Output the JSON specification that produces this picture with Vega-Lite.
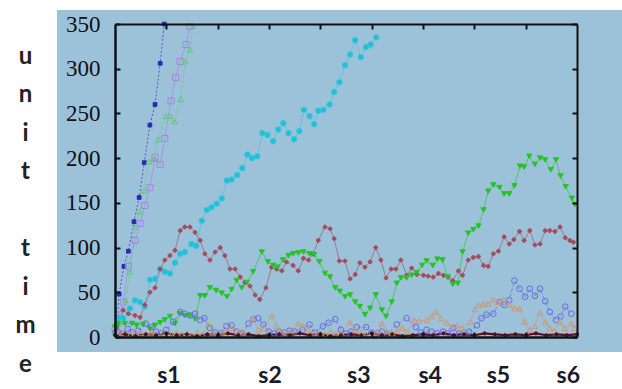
{
"$schema": "https://vega.github.io/schema/vega-lite/v6.json",
"width": 462, "height": 313,
"autosize": "none",
"padding": {"left": 115, "top": 24, "right": 45, "bottom": 52},
"background": "white",
"config": {"view": {"stroke": null}, "axis": {"grid": false, "zindex": 1, "labelFont": "Liberation Serif", "labelFontSize": 23}, "axisY": {"labelFont": "Liberation Serif", "labelFontSize": 23}, "style": {"guide-label": {"font": "Liberation Serif", "fontSize": 23}}},
"resolve": {"axis": {"x": "independent", "y": "independent"}},
"datasets": {
"labels": [{"lab":"s1","pos":10.5},{"lab":"s2","pos":30.2},{"lab":"s3","pos":47.5},{"lab":"s4","pos":61.4},{"lab":"s5","pos":74.7},{"lab":"s6","pos":88.3}],
"series": [
{"s":"d","x":0,"y":5},{"s":"d","x":0.4,"y":14},{"s":"d","x":0.8,"y":48},{"s":"d","x":1.75,"y":79},{"s":"d","x":2.6,"y":96},{"s":"d","x":3.7,"y":129},{"s":"d","x":4.7,"y":156},{"s":"d","x":5.7,"y":195},{"s":"d","x":6.8,"y":237},{"s":"d","x":7.8,"y":260},{"s":"d","x":8.8,"y":306},{"s":"d","x":9.6,"y":350},
{"s":"p","x":0,"y":8},{"s":"p","x":0.8,"y":25},{"s":"p","x":1.6,"y":39},{"s":"p","x":2.6,"y":79},{"s":"p","x":3.9,"y":108},{"s":"p","x":4.9,"y":127},{"s":"p","x":5.8,"y":147},{"s":"p","x":6.8,"y":167},{"s":"p","x":7.8,"y":201},{"s":"p","x":8.8,"y":193},{"s":"p","x":9.7,"y":222},{"s":"p","x":10.9,"y":264},{"s":"p","x":11.8,"y":290},{"s":"p","x":12.7,"y":308},{"s":"p","x":13.8,"y":327},{"s":"p","x":14.6,"y":347},
{"s":"g1","x":0,"y":6},{"s":"g1","x":0.8,"y":15},{"s":"g1","x":2.1,"y":41},{"s":"g1","x":2.9,"y":73},{"s":"g1","x":3.9,"y":123},{"s":"g1","x":4.8,"y":140},{"s":"g1","x":5.6,"y":164},{"s":"g1","x":6.6,"y":196},{"s":"g1","x":7.6,"y":199},{"s":"g1","x":8.4,"y":221},{"s":"g1","x":9.9,"y":247},{"s":"g1","x":10.8,"y":247},{"s":"g1","x":11.6,"y":241},{"s":"g1","x":12.8,"y":266},{"s":"g1","x":13.7,"y":308},{"s":"g1","x":14.6,"y":321},{"s":"g1","x":15.2,"y":348},
{"s":"c","x":0.6,"y":22},{"s":"c","x":1.6,"y":21},{"s":"c","x":2.9,"y":32},{"s":"c","x":3.9,"y":41},{"s":"c","x":4.9,"y":39},{"s":"c","x":5.8,"y":34},{"s":"c","x":6.8,"y":64},{"s":"c","x":7.8,"y":65},{"s":"c","x":8.8,"y":76},{"s":"c","x":9.7,"y":73},{"s":"c","x":10.7,"y":71},{"s":"c","x":11.7,"y":83},{"s":"c","x":12.7,"y":93},{"s":"c","x":13.6,"y":95},{"s":"c","x":14.9,"y":104},{"s":"c","x":15.8,"y":102},{"s":"c","x":16.9,"y":130},{"s":"c","x":17.9,"y":142},{"s":"c","x":18.8,"y":145},{"s":"c","x":19.8,"y":149},{"s":"c","x":20.8,"y":155},{"s":"c","x":21.8,"y":175},{"s":"c","x":22.7,"y":176},{"s":"c","x":23.8,"y":181},{"s":"c","x":24.8,"y":189},{"s":"c","x":25.8,"y":204},{"s":"c","x":26.7,"y":200},{"s":"c","x":27.7,"y":202},{"s":"c","x":28.7,"y":228},{"s":"c","x":29.7,"y":226},{"s":"c","x":30.8,"y":219},{"s":"c","x":31.8,"y":232},{"s":"c","x":32.8,"y":239},{"s":"c","x":33.8,"y":228},{"s":"c","x":34.9,"y":221},{"s":"c","x":35.9,"y":230},{"s":"c","x":36.8,"y":254},{"s":"c","x":37.9,"y":247},{"s":"c","x":38.8,"y":238},{"s":"c","x":39.6,"y":253},{"s":"c","x":40.6,"y":254},{"s":"c","x":41.8,"y":260},{"s":"c","x":42.7,"y":274},{"s":"c","x":43.7,"y":285},{"s":"c","x":44.8,"y":304},{"s":"c","x":45.8,"y":316},{"s":"c","x":46.8,"y":332},{"s":"c","x":47.9,"y":313},{"s":"c","x":48.9,"y":324},{"s":"c","x":49.8,"y":327},{"s":"c","x":50.9,"y":335},
{"s":"m","x":0.3,"y":10},{"s":"m","x":1.6,"y":30},{"s":"m","x":2.6,"y":26},{"s":"m","x":3.9,"y":24},{"s":"m","x":4.9,"y":22},{"s":"m","x":5.8,"y":36},{"s":"m","x":6.8,"y":50},{"s":"m","x":7.8,"y":55},{"s":"m","x":8.8,"y":76},{"s":"m","x":9.7,"y":86},{"s":"m","x":10.7,"y":91},{"s":"m","x":11.7,"y":97},{"s":"m","x":12.7,"y":119},{"s":"m","x":13.6,"y":123},{"s":"m","x":14.6,"y":123},{"s":"m","x":15.6,"y":117},{"s":"m","x":16.6,"y":108},{"s":"m","x":17.5,"y":93},{"s":"m","x":18.5,"y":86},{"s":"m","x":19.5,"y":95},{"s":"m","x":20.5,"y":100},{"s":"m","x":21.4,"y":91},{"s":"m","x":22.4,"y":76},{"s":"m","x":23.4,"y":76},{"s":"m","x":24.4,"y":67},{"s":"m","x":25.3,"y":61},{"s":"m","x":26.3,"y":57},{"s":"m","x":27.3,"y":47},{"s":"m","x":28.2,"y":42},{"s":"m","x":29.4,"y":55},{"s":"m","x":30.5,"y":78},{"s":"m","x":31.5,"y":76},{"s":"m","x":32.5,"y":74},{"s":"m","x":33.4,"y":84},{"s":"m","x":34.7,"y":80},{"s":"m","x":35.7,"y":74},{"s":"m","x":36.7,"y":88},{"s":"m","x":37.7,"y":86},{"s":"m","x":38.6,"y":93},{"s":"m","x":39.6,"y":108},{"s":"m","x":40.9,"y":123},{"s":"m","x":41.9,"y":121},{"s":"m","x":42.7,"y":110},{"s":"m","x":43.7,"y":85},{"s":"m","x":44.8,"y":85},{"s":"m","x":45.8,"y":65},{"s":"m","x":46.8,"y":70},{"s":"m","x":47.7,"y":83},{"s":"m","x":48.7,"y":78},{"s":"m","x":49.7,"y":84},{"s":"m","x":50.8,"y":100},{"s":"m","x":51.8,"y":86},{"s":"m","x":52.8,"y":66},{"s":"m","x":53.8,"y":76},{"s":"m","x":54.7,"y":76},{"s":"m","x":55.7,"y":86},{"s":"m","x":56.8,"y":69},{"s":"m","x":57.8,"y":77},{"s":"m","x":58.8,"y":70},{"s":"m","x":60.1,"y":69},{"s":"m","x":61.0,"y":68},{"s":"m","x":62.0,"y":67},{"s":"m","x":63.0,"y":71},{"s":"m","x":64.0,"y":69},{"s":"m","x":64.9,"y":67},{"s":"m","x":65.8,"y":63},{"s":"m","x":66.9,"y":74},{"s":"m","x":67.7,"y":69},{"s":"m","x":68.8,"y":86},{"s":"m","x":69.8,"y":89},{"s":"m","x":70.8,"y":90},{"s":"m","x":71.8,"y":80},{"s":"m","x":72.7,"y":79},{"s":"m","x":73.7,"y":93},{"s":"m","x":74.7,"y":96},{"s":"m","x":75.8,"y":112},{"s":"m","x":76.8,"y":104},{"s":"m","x":77.7,"y":109},{"s":"m","x":78.8,"y":118},{"s":"m","x":79.7,"y":108},{"s":"m","x":80.8,"y":119},{"s":"m","x":81.8,"y":103},{"s":"m","x":82.8,"y":104},{"s":"m","x":83.8,"y":119},{"s":"m","x":84.7,"y":119},{"s":"m","x":85.7,"y":118},{"s":"m","x":86.7,"y":123},{"s":"m","x":87.7,"y":111},{"s":"m","x":88.6,"y":108},{"s":"m","x":89.3,"y":106},
{"s":"g2","x":0,"y":11},{"s":"g2","x":0.6,"y":15},{"s":"g2","x":1.9,"y":15},{"s":"g2","x":3.3,"y":15},{"s":"g2","x":4.2,"y":13},{"s":"g2","x":5.5,"y":14},{"s":"g2","x":6.8,"y":9},{"s":"g2","x":7.8,"y":13},{"s":"g2","x":8.8,"y":16},{"s":"g2","x":9.7,"y":19},{"s":"g2","x":10.7,"y":23},{"s":"g2","x":11.7,"y":15},{"s":"g2","x":12.7,"y":26},{"s":"g2","x":13.6,"y":24},{"s":"g2","x":14.6,"y":24},{"s":"g2","x":15.6,"y":20},{"s":"g2","x":16.6,"y":46},{"s":"g2","x":17.5,"y":46},{"s":"g2","x":18.5,"y":55},{"s":"g2","x":19.7,"y":52},{"s":"g2","x":20.8,"y":49},{"s":"g2","x":21.8,"y":45},{"s":"g2","x":22.7,"y":53},{"s":"g2","x":23.7,"y":63},{"s":"g2","x":24.7,"y":55},{"s":"g2","x":25.7,"y":61},{"s":"g2","x":26.9,"y":73},{"s":"g2","x":28.6,"y":95},{"s":"g2","x":29.8,"y":84},{"s":"g2","x":30.8,"y":80},{"s":"g2","x":31.7,"y":78},{"s":"g2","x":32.7,"y":86},{"s":"g2","x":33.8,"y":91},{"s":"g2","x":34.7,"y":93},{"s":"g2","x":35.7,"y":94},{"s":"g2","x":36.7,"y":95},{"s":"g2","x":37.9,"y":93},{"s":"g2","x":38.8,"y":92},{"s":"g2","x":39.8,"y":84},{"s":"g2","x":40.9,"y":71},{"s":"g2","x":41.9,"y":67},{"s":"g2","x":42.9,"y":55},{"s":"g2","x":43.8,"y":51},{"s":"g2","x":44.8,"y":45},{"s":"g2","x":45.8,"y":47},{"s":"g2","x":46.8,"y":39},{"s":"g2","x":47.7,"y":34},{"s":"g2","x":48.7,"y":25},{"s":"g2","x":49.7,"y":32},{"s":"g2","x":50.8,"y":47},{"s":"g2","x":52.0,"y":30},{"s":"g2","x":52.8,"y":23},{"s":"g2","x":53.9,"y":39},{"s":"g2","x":54.9,"y":60},{"s":"g2","x":55.7,"y":66},{"s":"g2","x":56.8,"y":66},{"s":"g2","x":57.8,"y":69},{"s":"g2","x":58.8,"y":72},{"s":"g2","x":59.8,"y":80},{"s":"g2","x":60.7,"y":85},{"s":"g2","x":61.9,"y":80},{"s":"g2","x":62.8,"y":87},{"s":"g2","x":63.8,"y":86},{"s":"g2","x":64.8,"y":67},{"s":"g2","x":65.8,"y":59},{"s":"g2","x":66.8,"y":60},{"s":"g2","x":67.7,"y":95},{"s":"g2","x":68.8,"y":116},{"s":"g2","x":69.8,"y":120},{"s":"g2","x":70.8,"y":124},{"s":"g2","x":71.8,"y":142},{"s":"g2","x":72.7,"y":163},{"s":"g2","x":73.7,"y":170},{"s":"g2","x":74.9,"y":167},{"s":"g2","x":75.8,"y":160},{"s":"g2","x":76.8,"y":160},{"s":"g2","x":77.8,"y":169},{"s":"g2","x":78.9,"y":191},{"s":"g2","x":79.7,"y":190},{"s":"g2","x":80.7,"y":202},{"s":"g2","x":81.8,"y":193},{"s":"g2","x":82.8,"y":200},{"s":"g2","x":83.8,"y":198},{"s":"g2","x":84.9,"y":187},{"s":"g2","x":85.9,"y":198},{"s":"g2","x":86.8,"y":180},{"s":"g2","x":87.8,"y":168},{"s":"g2","x":89.0,"y":155},{"s":"g2","x":89.6,"y":148},
{"s":"b","x":0.5,"y":6},{"s":"b","x":1.5,"y":4},{"s":"b","x":2.5,"y":9},{"s":"b","x":3.5,"y":5},{"s":"b","x":4.5,"y":7},{"s":"b","x":6.0,"y":15},{"s":"b","x":7.1,"y":11},{"s":"b","x":8,"y":6},{"s":"b","x":9,"y":4},{"s":"b","x":10,"y":8},{"s":"b","x":11.3,"y":17},{"s":"b","x":12.7,"y":28},{"s":"b","x":13.6,"y":26},{"s":"b","x":14.6,"y":24},{"s":"b","x":15.6,"y":26},{"s":"b","x":16.6,"y":19},{"s":"b","x":17.4,"y":21},{"s":"b","x":18.5,"y":10},{"s":"b","x":19.5,"y":5},{"s":"b","x":20.5,"y":4},{"s":"b","x":21.7,"y":12},{"s":"b","x":22.7,"y":13},{"s":"b","x":23.7,"y":6},{"s":"b","x":24.7,"y":4},{"s":"b","x":26.0,"y":15},{"s":"b","x":27.0,"y":20},{"s":"b","x":27.9,"y":21},{"s":"b","x":28.9,"y":14},{"s":"b","x":30,"y":6},{"s":"b","x":31,"y":4},{"s":"b","x":32,"y":6},{"s":"b","x":33,"y":5},{"s":"b","x":34,"y":7},{"s":"b","x":35,"y":6},{"s":"b","x":36.5,"y":8},{"s":"b","x":37.9,"y":14},{"s":"b","x":38.9,"y":5},{"s":"b","x":40.5,"y":12},{"s":"b","x":41.6,"y":16},{"s":"b","x":42.9,"y":20},{"s":"b","x":44,"y":8},{"s":"b","x":45,"y":4},{"s":"b","x":46,"y":6},{"s":"b","x":47.1,"y":11},{"s":"b","x":48.9,"y":11},{"s":"b","x":50,"y":5},{"s":"b","x":51,"y":4},{"s":"b","x":52,"y":6},{"s":"b","x":53,"y":3},{"s":"b","x":54.9,"y":14},{"s":"b","x":56.8,"y":21},{"s":"b","x":58.6,"y":11},{"s":"b","x":59.6,"y":5},{"s":"b","x":60.7,"y":8},{"s":"b","x":61.7,"y":6},{"s":"b","x":62.8,"y":4},{"s":"b","x":63.9,"y":6},{"s":"b","x":64.9,"y":4},{"s":"b","x":65.9,"y":10},{"s":"b","x":67,"y":4},{"s":"b","x":68,"y":5},{"s":"b","x":69,"y":6},{"s":"b","x":70.5,"y":13},{"s":"b","x":71.4,"y":21},{"s":"b","x":72.4,"y":25},{"s":"b","x":73.7,"y":26},{"s":"b","x":74.9,"y":39},{"s":"b","x":75.8,"y":36},{"s":"b","x":76.8,"y":41},{"s":"b","x":77.8,"y":63},{"s":"b","x":78.8,"y":54},{"s":"b","x":79.9,"y":45},{"s":"b","x":80.8,"y":54},{"s":"b","x":81.8,"y":46},{"s":"b","x":82.8,"y":54},{"s":"b","x":83.8,"y":40},{"s":"b","x":84.7,"y":28},{"s":"b","x":85.9,"y":19},{"s":"b","x":86.8,"y":23},{"s":"b","x":87.7,"y":34},{"s":"b","x":88.9,"y":26},
{"s":"t","x":0.5,"y":3},{"s":"t","x":1.5,"y":5},{"s":"t","x":3,"y":3},{"s":"t","x":4,"y":6},{"s":"t","x":5,"y":4},{"s":"t","x":6,"y":3},{"s":"t","x":7,"y":5},{"s":"t","x":8,"y":3},{"s":"t","x":9,"y":2},{"s":"t","x":10,"y":4},{"s":"t","x":11,"y":3},{"s":"t","x":12,"y":5},{"s":"t","x":13,"y":3},{"s":"t","x":14,"y":4},{"s":"t","x":15,"y":2},{"s":"t","x":16,"y":5},{"s":"t","x":17,"y":3},{"s":"t","x":18.2,"y":14},{"s":"t","x":19,"y":5},{"s":"t","x":20,"y":3},{"s":"t","x":21,"y":6},{"s":"t","x":22.5,"y":10},{"s":"t","x":24,"y":6},{"s":"t","x":25,"y":5},{"s":"t","x":26.9,"y":21},{"s":"t","x":28,"y":8},{"s":"t","x":29,"y":10},{"s":"t","x":30.6,"y":24},{"s":"t","x":31.5,"y":12},{"s":"t","x":32.5,"y":6},{"s":"t","x":33.5,"y":4},{"s":"t","x":34.7,"y":8},{"s":"t","x":35.7,"y":15},{"s":"t","x":36.7,"y":13},{"s":"t","x":37.7,"y":8},{"s":"t","x":38.7,"y":4},{"s":"t","x":40,"y":5},{"s":"t","x":41,"y":3},{"s":"t","x":42,"y":6},{"s":"t","x":43,"y":4},{"s":"t","x":44,"y":5},{"s":"t","x":45.8,"y":16},{"s":"t","x":46.8,"y":8},{"s":"t","x":48,"y":5},{"s":"t","x":49,"y":3},{"s":"t","x":50,"y":4},{"s":"t","x":51,"y":6},{"s":"t","x":52,"y":15},{"s":"t","x":53,"y":6},{"s":"t","x":54,"y":4},{"s":"t","x":55,"y":8},{"s":"t","x":56,"y":10},{"s":"t","x":57,"y":6},{"s":"t","x":58.3,"y":19},{"s":"t","x":59.2,"y":18},{"s":"t","x":60.7,"y":19},{"s":"t","x":61.7,"y":23},{"s":"t","x":62.5,"y":28},{"s":"t","x":63.5,"y":21},{"s":"t","x":64.6,"y":16},{"s":"t","x":65.6,"y":11},{"s":"t","x":66.6,"y":13},{"s":"t","x":67.6,"y":10},{"s":"t","x":69.3,"y":17},{"s":"t","x":70.1,"y":31},{"s":"t","x":70.8,"y":36},{"s":"t","x":71.8,"y":37},{"s":"t","x":72.7,"y":37},{"s":"t","x":73.7,"y":42},{"s":"t","x":74.7,"y":39},{"s":"t","x":75.7,"y":42},{"s":"t","x":76.8,"y":36},{"s":"t","x":77.8,"y":32},{"s":"t","x":78.8,"y":32},{"s":"t","x":79.8,"y":17},{"s":"t","x":80.8,"y":8},{"s":"t","x":81.8,"y":12},{"s":"t","x":82.8,"y":27},{"s":"t","x":83.8,"y":17},{"s":"t","x":84.7,"y":10},{"s":"t","x":85.6,"y":7},{"s":"t","x":86.6,"y":17},{"s":"t","x":87.6,"y":10},{"s":"t","x":88.9,"y":15},{"s":"t","x":89.5,"y":10},
{"s":"r","x":0,"y":2},{"s":"r","x":2,"y":3},{"s":"r","x":4,"y":1},{"s":"r","x":6,"y":3},{"s":"r","x":8,"y":2},{"s":"r","x":10,"y":4},{"s":"r","x":12,"y":2},{"s":"r","x":14,"y":3},{"s":"r","x":16,"y":1},{"s":"r","x":18,"y":3},{"s":"r","x":20,"y":2},{"s":"r","x":22,"y":4},{"s":"r","x":24,"y":2},{"s":"r","x":26,"y":3},{"s":"r","x":28,"y":1},{"s":"r","x":30,"y":2},{"s":"r","x":32,"y":3},{"s":"r","x":34,"y":2},{"s":"r","x":36,"y":4},{"s":"r","x":38,"y":2},{"s":"r","x":40,"y":3},{"s":"r","x":42,"y":1},{"s":"r","x":44,"y":2},{"s":"r","x":46,"y":3},{"s":"r","x":48,"y":2},{"s":"r","x":50,"y":4},{"s":"r","x":52,"y":2},{"s":"r","x":54,"y":3},{"s":"r","x":56,"y":1},{"s":"r","x":58,"y":2},{"s":"r","x":60,"y":3},{"s":"r","x":62,"y":2},{"s":"r","x":64,"y":4},{"s":"r","x":66,"y":2},{"s":"r","x":68,"y":3},{"s":"r","x":70,"y":2},{"s":"r","x":72,"y":4},{"s":"r","x":74,"y":3},{"s":"r","x":76,"y":2},{"s":"r","x":78,"y":3},{"s":"r","x":80,"y":2},{"s":"r","x":82,"y":4},{"s":"r","x":84,"y":2},{"s":"r","x":86,"y":3},{"s":"r","x":88,"y":2},{"s":"r","x":90,"y":3}
]},
"layer": [
{
"data": {"values": [{}]},
"mark": {"type": "rect", "color": "#9cc2da"},
"encoding": {
"x": {"datum": -11.3, "type": "quantitative", "scale": {"domain": [0, 90], "nice": false, "zero": false}, "axis": null},
"x2": {"datum": 98.8},
"y": {"datum": 365.6, "type": "quantitative", "scale": {"domain": [0, 350], "nice": false, "zero": false}, "axis": null},
"y2": {"datum": -16.7}
}
},
{
"data": {"name": "series"},
"transform": [{"filter": "datum.s !== 'r'"}],
"mark": {"type": "line", "strokeWidth": 1, "opacity": 0.7},
"encoding": {
"x": {"field": "x", "type": "quantitative", "scale": {"domain": [0, 90], "nice": false, "zero": false},
"axis": {"orient": "top", "zindex": 1, "values": [10,20,30,40,50,60,70,80], "labels": false, "ticks": true, "tickSize": -5, "tickWidth": 2, "tickColor": "#111", "domain": true, "domainColor": "#111", "domainWidth": 2, "title": null, "grid": false}},
"y": {"field": "y", "type": "quantitative", "scale": {"domain": [0, 350], "nice": false, "zero": false},
"axis": {"orient": "left", "zindex": 1, "values": [0,50,100,150,200,250,300,350], "tickSize": -5, "tickWidth": 2, "tickColor": "#111", "labelPadding": 20, "labelFont": "Liberation Serif", "labelFontSize": 23, "labelFontWeight": "normal", "labelColor": "#111", "labelBaseline": "middle", "labelFlush": false, "labelOverlap": false, "domainWidth": 2.5, "domainColor": "#111", "grid": false,
"title": ["u","n","i","t","\u200b","t","i","m","e"], "titleAngle": 0, "titleX": -90, "titleY": 39, "titleAlign": "center", "titleBaseline": "alphabetic", "titleFont": "Lato", "titleFontWeight": "bold", "titleFontSize": 24, "titleLineHeight": 38.5, "titleColor": "#222"}},
"stroke": {"field": "s", "type": "nominal", "scale": {"domain": ["d","p","g1","c","m","g2","b","t","r"], "range": ["#2a2ab8","#a584e0","#5ccc70","#3cc4dc","#a44c5c","#28c428","#6a6ae0","#c89a78","#5a1020"]}, "legend": null},
"strokeDash": {"field": "s", "type": "nominal", "scale": {"domain": ["d","p","g1","c","m","g2","b","t","r"], "range": [[2,2],[1,0],[3,2],[1,0],[1,0],[1,0],[4,2],[1,0],[1,0]]}, "legend": null}
}
},
{
"data": {"name": "series"},
"transform": [{"filter": "datum.s === 'r'"}],
"mark": {"type": "line", "strokeWidth": 2.2, "color": "#5a1020"},
"encoding": {
"x": {"field": "x", "type": "quantitative", "scale": {"domain": [0, 90], "nice": false, "zero": false}, "axis": null},
"y": {"field": "y", "type": "quantitative", "scale": {"domain": [0, 350], "nice": false, "zero": false}, "axis": null}
}
},
{
"data": {"name": "series"},
"mark": {"type": "point", "strokeWidth": 1, "opacity": 1},
"encoding": {
"x": {"field": "x", "type": "quantitative", "scale": {"domain": [0, 90], "nice": false, "zero": false}, "axis": null},
"y": {"field": "y", "type": "quantitative", "scale": {"domain": [0, 350], "nice": false, "zero": false}, "axis": null},
"shape": {"field": "s", "type": "nominal", "scale": {"domain": ["d","p","g1","c","m","g2","b","t","r"], "range": ["square","square","triangle-up","circle","cross","triangle-down","circle","triangle-up","cross"]}, "legend": null},
"fill": {"field": "s", "type": "nominal", "scale": {"domain": ["d","p","g1","c","m","g2","b","t","r"], "range": ["#2a2ab8","transparent","transparent","#1fc0d8","#a44c5c","#22c422","transparent","transparent","#5a1020"]}, "legend": null},
"stroke": {"field": "s", "type": "nominal", "scale": {"domain": ["d","p","g1","c","m","g2","b","t","r"], "range": ["#2a2ab8","#a584e0","#5ccc70","#3cc4dc","#a44c5c","#28c428","#6a6ae0","#c89a78","#5a1020"]}, "legend": null},
"size": {"field": "s", "type": "nominal", "scale": {"type": "ordinal", "domain": ["d","p","g1","c","m","g2","b","t","r"], "range": [14,36,30,30,14,28,32,32,10]}, "legend": null}
}
},
{
"data": {"name": "labels"},
"mark": {"type": "text", "font": "Lato", "fontWeight": "bold", "fontSize": 23, "color": "#1a1a2a", "baseline": "middle", "align": "center"},
"encoding": {
"x": {"field": "pos", "type": "quantitative", "scale": {"domain": [0, 90], "nice": false, "zero": false},
"axis": {"orient": "bottom", "zindex": 1, "values": [10,20,30,40,50,60,70,80], "labels": false, "ticks": true, "tickSize": -5, "tickWidth": 2, "tickColor": "#111", "domain": true, "domainColor": "#111", "domainWidth": 2.5, "title": null, "grid": false}},
"y": {"datum": -43.5, "type": "quantitative", "scale": {"domain": [0, 350], "nice": false, "zero": false},
"axis": {"orient": "right", "zindex": 1, "values": [0,50,100,150,200,250,300,350], "labels": false, "ticks": true, "tickSize": -5, "tickWidth": 2, "tickColor": "#111", "domain": true, "domainColor": "#111", "domainWidth": 2, "title": null, "grid": false}},
"text": {"field": "lab"}
}
}
]
}
